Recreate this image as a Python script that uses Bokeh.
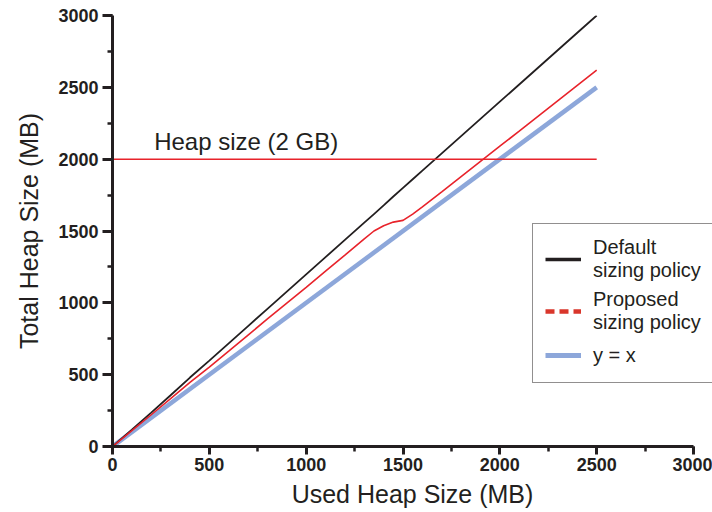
from bokeh.plotting import figure
from bokeh.models import Legend, LegendItem, SingleIntervalTicker, Label, Range1d
from bokeh.embed import file_html
from bokeh.resources import INLINE

# ---- data ----
used_mb = [0, 100, 200, 300, 400, 500, 600, 700, 800, 900, 1000, 1100, 1200,
           1300, 1350, 1400, 1450, 1500, 1550, 1600, 1700, 1800, 1900, 2000,
           2100, 2200, 2300, 2400, 2500]
default_total = [0, 117, 236, 357, 480, 598, 718, 838, 958, 1078, 1198, 1318, 1438,
                 1558, 1618, 1678, 1740, 1800, 1860, 1920, 2040, 2160, 2280, 2400,
                 2520, 2640, 2760, 2880, 3000]
proposed_total = [0, 110, 221, 333, 446, 553, 664, 776, 888, 998, 1108, 1220, 1332,
                  1445, 1500, 1537, 1562, 1574, 1618, 1668, 1772, 1878, 1984, 2090,
                  2195, 2302, 2408, 2514, 2620]
identity_x = [0, 2500]
identity_y = [0, 2500]
heap_limit_x = [0, 2500]
heap_limit_y = [2000, 2000]
heap_limit_label = "Heap size (2 GB)"
axis_max = 3000

INK = "#231f20"
RED = "#e8232b"
BLUE = "#8da7da"

# frame runs to the right edge of the canvas so the legend can reach it;
# the axes themselves stop at 3000 (via bounds)
p = figure(width=712, height=512, output_backend="svg", toolbar_location=None,
           x_range=Range1d(0, 3098), y_range=Range1d(0, axis_max),
           min_border_left=112, min_border_right=0, min_border_top=15,
           min_border_bottom=66)
p.outline_line_color = None
p.grid.visible = False
p.background_fill_color = "white"

r_id = p.line(identity_x, identity_y, line_color=BLUE, line_width=4.5)
r_def = p.line(used_mb, default_total, line_color=INK, line_width=1.8)
p.line(heap_limit_x, heap_limit_y, line_color=RED, line_width=1.5)
r_prop = p.line(used_mb, proposed_total, line_color=RED, line_width=1.6)

# legend proxies (thicker strokes as in the reference key)
leg_def = p.line([0], [0], line_color=INK, line_width=3.5, visible=False)
leg_prop = p.line([0], [0], line_color="#d9362b", line_width=4.5, line_dash="9 5", visible=False)
leg_id = p.line([0], [0], line_color=BLUE, line_width=5, visible=False)

p.add_layout(Label(x=215, y=2000, y_offset=4, text=heap_limit_label,
                   text_font="Liberation Sans", text_font_size="24px",
                   text_color=INK))

for ax, lab in ((p.xaxis[0], "Used Heap Size (MB)"), (p.yaxis[0], "Total Heap Size (MB)")):
    ax.ticker = SingleIntervalTicker(interval=500, num_minor_ticks=2)
    ax.bounds = (0, axis_max)
    ax.axis_label = lab
    ax.axis_label_text_font = "Liberation Sans"
    ax.axis_label_text_font_size = "25px"
    ax.axis_label_text_font_style = "normal"
    ax.axis_label_text_color = INK
    ax.major_label_text_font = "Liberation Sans"
    ax.major_label_text_font_size = "18px"
    ax.major_label_text_font_style = "bold"
    ax.major_label_text_color = INK
    ax.axis_line_color = INK
    ax.axis_line_width = 3
    ax.major_tick_line_color = INK
    ax.major_tick_line_width = 3
    ax.minor_tick_line_color = INK
    ax.minor_tick_line_width = 2.5
    ax.major_tick_in = 0
    ax.minor_tick_in = 0

p.xaxis.major_tick_out = 8
p.xaxis.minor_tick_out = 5
p.yaxis.major_tick_out = 10
p.yaxis.minor_tick_out = 5
p.xaxis.major_label_standoff = 3
p.yaxis.major_label_standoff = 4
p.xaxis.axis_label_standoff = 6
p.yaxis.axis_label_standoff = 12

legend = Legend(items=[
    LegendItem(label="Default\nsizing policy", renderers=[leg_def]),
    LegendItem(label="Proposed\nsizing policy", renderers=[leg_prop]),
    LegendItem(label="y = x", renderers=[leg_id]),
], location=(420, 63))
legend.label_text_font = "Liberation Sans"
legend.label_text_font_size = "20px"
legend.label_text_color = INK
legend.label_standoff = 12
legend.glyph_width = 36
legend.glyph_height = 20
legend.label_height = 30
legend.spacing = 6
legend.padding = 12
legend.margin = 0
legend.border_line_color = INK
legend.border_line_width = 1.5
legend.background_fill_alpha = 1
p.add_layout(legend)

open("out.html", "w").write(file_html(p, INLINE))
